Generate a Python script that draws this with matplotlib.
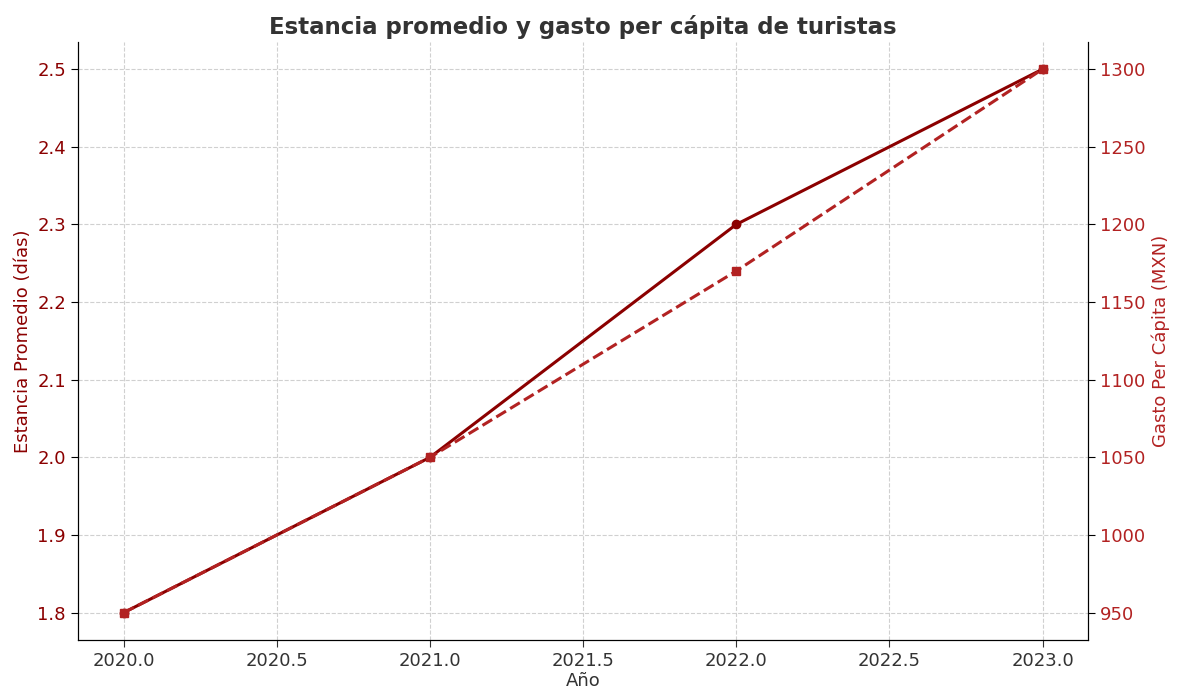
import matplotlib
matplotlib.use("Agg")
import matplotlib.pyplot as plt

# datos
anios = [2020, 2021, 2022, 2023]
estancia = [1.8, 2.0, 2.3, 2.5]
gasto = [950, 1050, 1170, 1300]

c_est = '#8B0000'
c_gas = '#B22222'
txt = '#333333'

plt.rcParams['font.family'] = ['DejaVu Sans']
plt.rcParams['text.color'] = txt
plt.rcParams['axes.labelcolor'] = txt
plt.rcParams['xtick.color'] = txt

fig, ax = plt.subplots(figsize=(11.78, 7), dpi=100)
ax.plot(anios, estancia, marker='o', color=c_est, lw=2.2, markersize=6, label='Estancia Promedio')
ax.set_xlabel('Año', fontsize=13, labelpad=2)
ax.set_ylabel('Estancia Promedio (días)', color=c_est, fontsize=13)
ax.tick_params(axis='y', labelcolor=c_est, labelsize=13, length=5)
ax.tick_params(axis='x', labelsize=13, length=5)
ax.grid(True, linestyle='--', color='#d0d0d0', lw=0.8)

ax2 = ax.twinx()
ax2.plot(anios, gasto, marker='s', color=c_gas, lw=2.2, ls='--', markersize=6, label='Gasto Per Cápita')
ax2.set_ylabel('Gasto Per Cápita (MXN)', color=c_gas, fontsize=13)
ax2.tick_params(axis='y', labelcolor=c_gas, labelsize=13, length=5)

for a in (ax, ax2):
    a.spines['top'].set_visible(False)

ax.set_title('Estancia promedio y gasto per cápita de turistas', fontsize=16.5, fontweight='bold', color=txt)

plt.subplots_adjust(left=0.066, right=0.924, top=0.94, bottom=0.086)
plt.savefig('out.png', dpi=100)
